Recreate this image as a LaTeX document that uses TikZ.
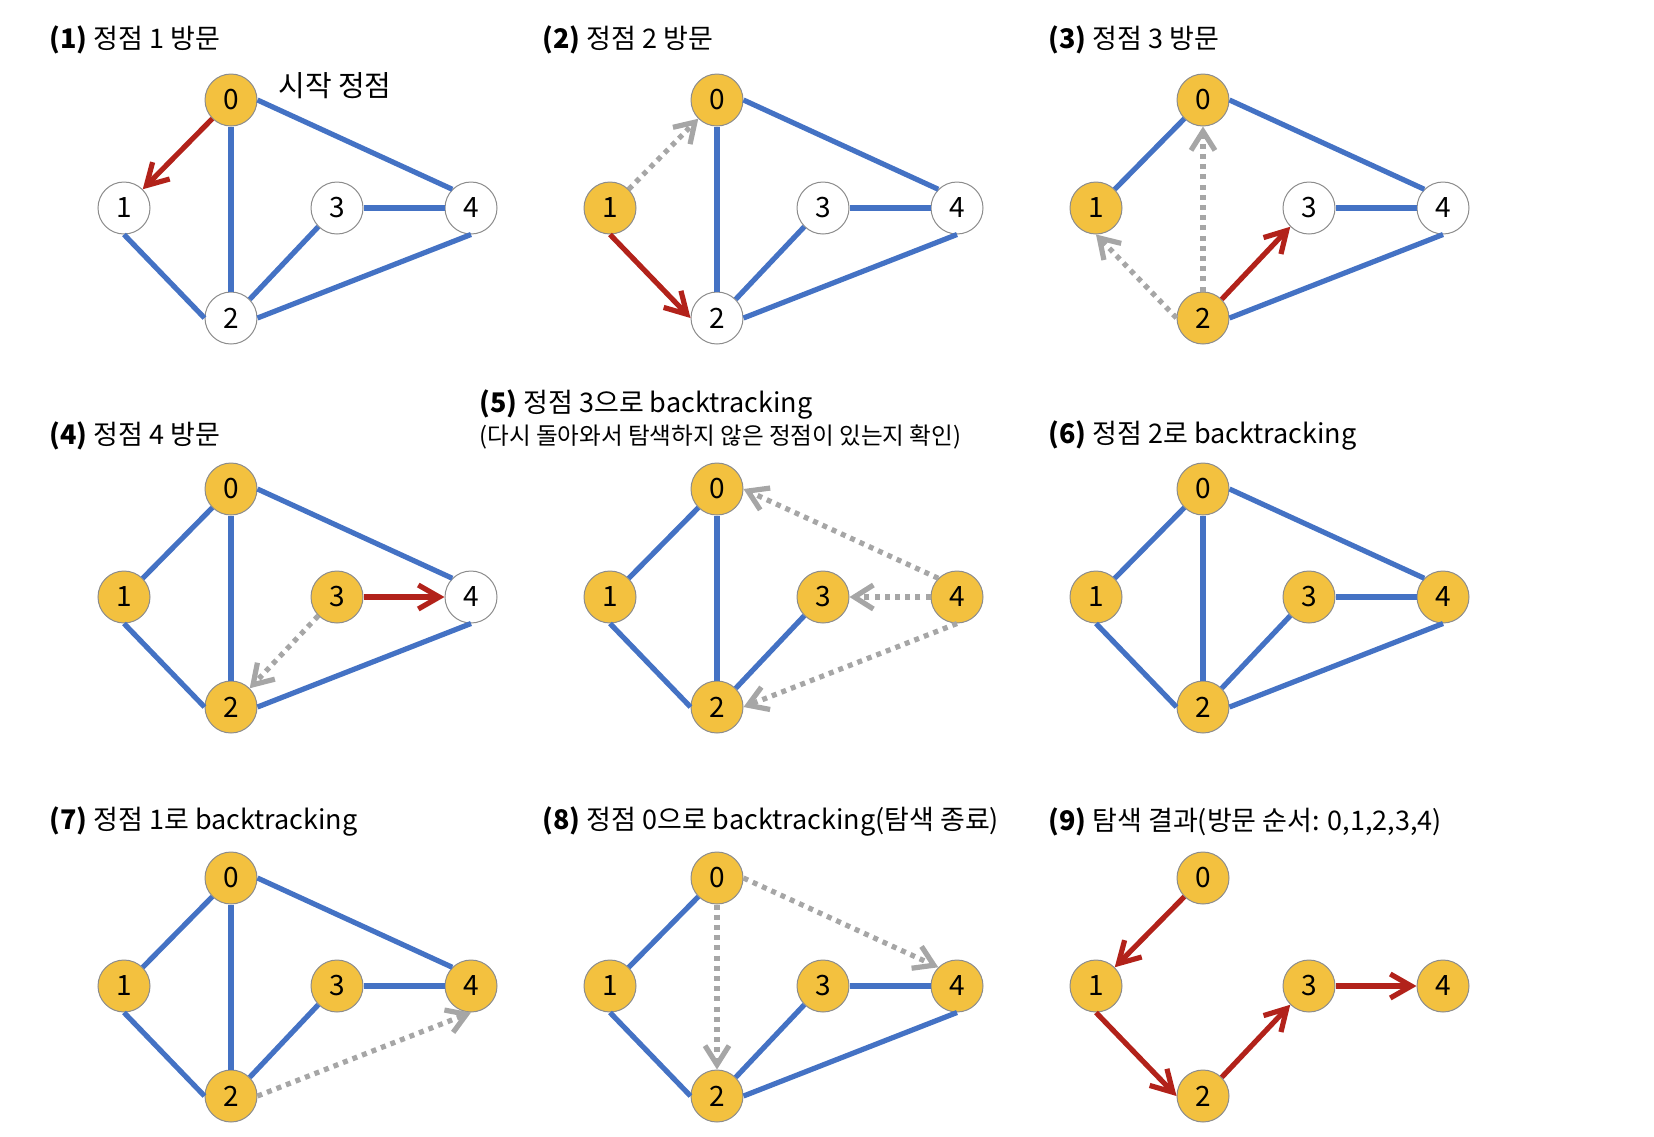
\documentclass[tikz,border=0pt]{standalone}
\usepackage{fontspec}
\setmainfont{Noto Sans CJK KR}
\usetikzlibrary{arrows.meta}

\definecolor{vyellow}{HTML}{F3C13F}
\definecolor{vborder}{HTML}{8C8C8C}
\definecolor{eblue}{HTML}{4472C4}
\definecolor{ered}{HTML}{B2221A}
\definecolor{egray}{HTML}{A6A6A6}

\newcommand{\vertices}[5]{%
  \node[#1] (v0) at (231,100) {0};
  \node[#2] (v1) at (124,208) {1};
  \node[#3] (v2) at (231,318) {2};
  \node[#4] (v3) at (337,208) {3};
  \node[#5] (v4) at (471,208) {4};}

\tikzset{
  vtx/.style={circle, draw=vborder, line width=0.5pt, minimum size=26pt, inner sep=0pt, font=\fontsize{14pt}{14pt}\selectfont},
  seen/.style={vtx, fill=vyellow},
  fresh/.style={vtx, fill=white},
  link/.style={draw=eblue, line width=2.6pt},
  visit/.style={draw=ered, line width=2.6pt, -{Straight Barb[length=10.5pt,width=12pt]}},
  check/.style={draw=egray, line width=2.6pt, dash pattern=on 2.5pt off 2.6pt, -{Straight Barb[length=9.5pt,width=12pt]}},
  title/.style={anchor=west, inner sep=0pt, font=\fontsize{13.5pt}{16pt}\selectfont},
  note/.style={anchor=west, inner sep=0pt, font=\fontsize{11.8pt}{14pt}\selectfont},
}

\begin{document}
\begin{tikzpicture}[x=0.5pt, y=-0.5pt]
  \useasboundingbox (0,0) rectangle (1654,1136);

  \node[title] (t1) at (49,40) {{\bfseries (1)} 정점 1 방문};
  \node[title] (t2) at (542,40) {{\bfseries (2)} 정점 2 방문};
  \node[title] (t3) at (1048,40) {{\bfseries (3)} 정점 3 방문};
  \node[title] (t4) at (49,436) {{\bfseries (4)} 정점 4 방문};
  \node[title] (t5) at (479,405) {{\bfseries (5)} 정점 3으로 backtracking};
  \node[note] (t5b) at (479,437) {(다시 돌아와서 탐색하지 않은 정점이 있는지 확인)};
  \node[title] (t6) at (1048,436) {{\bfseries (6)} 정점 2로 backtracking};
  \node[title] (t7) at (49,822) {{\bfseries (7)} 정점 1로 backtracking};
  \node[title] (t8) at (542,822) {{\bfseries (8)} 정점 0으로 backtracking(탐색 종료)};
  \node[title] (t9) at (1048,822) {{\bfseries (9)} 탐색 결과(방문 순서: 0,1,2,3,4)};

  \begin{scope}[name prefix=a-]
    \vertices{seen}{fresh}{fresh}{fresh}{fresh}
    \node[title, font=\fontsize{14.5pt}{16pt}\selectfont] (start) at (278,86) {시작 정점};
    \draw[link] (v1.south) -- (v2.west);
    \draw[link] (v0.south) -- (v2.north);
    \draw[link] (v0.east) -- (v4.north west);
    \draw[link] (v3.south west) -- (v2.north east);
    \draw[link] (v3.east) -- (v4.west);
    \draw[link] (v2.east) -- (v4.south);
    \draw[visit] (v0.south west) -- (v1.north east);
  \end{scope}

  \begin{scope}[shift={(486,0)}, name prefix=b-]
    \vertices{seen}{seen}{fresh}{fresh}{fresh}
    \draw[link] (v0.south) -- (v2.north);
    \draw[link] (v0.east) -- (v4.north west);
    \draw[link] (v3.south west) -- (v2.north east);
    \draw[link] (v3.east) -- (v4.west);
    \draw[link] (v2.east) -- (v4.south);
    \draw[check] (v1.north east) -- (v0.south west);
    \draw[visit] (v1.south) -- (v2.west);
  \end{scope}

  \begin{scope}[shift={(972,0)}, name prefix=c-]
    \vertices{seen}{seen}{seen}{fresh}{fresh}
    \draw[link] (v0.south west) -- (v1.north east);
    \draw[link] (v0.east) -- (v4.north west);
    \draw[link] (v3.east) -- (v4.west);
    \draw[link] (v2.east) -- (v4.south);
    \draw[check] (v2.west) -- (v1.south);
    \draw[check] (v2.north) -- (v0.south);
    \draw[visit] (v2.north east) -- (v3.south west);
  \end{scope}

  \begin{scope}[shift={(0,389)}, name prefix=d-]
    \vertices{seen}{seen}{seen}{seen}{fresh}
    \draw[link] (v0.south west) -- (v1.north east);
    \draw[link] (v1.south) -- (v2.west);
    \draw[link] (v0.south) -- (v2.north);
    \draw[link] (v0.east) -- (v4.north west);
    \draw[link] (v2.east) -- (v4.south);
    \draw[check] (v3.south west) -- (v2.north east);
    \draw[visit] (v3.east) -- (v4.west);
  \end{scope}

  \begin{scope}[shift={(486,389)}, name prefix=e-]
    \vertices{seen}{seen}{seen}{seen}{seen}
    \draw[link] (v0.south west) -- (v1.north east);
    \draw[link] (v1.south) -- (v2.west);
    \draw[link] (v0.south) -- (v2.north);
    \draw[link] (v3.south west) -- (v2.north east);
    \draw[check] (v4.north west) -- (v0.east);
    \draw[check] (v4.west) -- (v3.east);
    \draw[check] (v4.south) -- (v2.east);
  \end{scope}

  \begin{scope}[shift={(972,389)}, name prefix=f-]
    \vertices{seen}{seen}{seen}{seen}{seen}
    \draw[link] (v0.south west) -- (v1.north east);
    \draw[link] (v1.south) -- (v2.west);
    \draw[link] (v0.south) -- (v2.north);
    \draw[link] (v0.east) -- (v4.north west);
    \draw[link] (v3.south west) -- (v2.north east);
    \draw[link] (v3.east) -- (v4.west);
    \draw[link] (v2.east) -- (v4.south);
  \end{scope}

  \begin{scope}[shift={(0,778)}, name prefix=g-]
    \vertices{seen}{seen}{seen}{seen}{seen}
    \draw[link] (v0.south west) -- (v1.north east);
    \draw[link] (v1.south) -- (v2.west);
    \draw[link] (v0.south) -- (v2.north);
    \draw[link] (v0.east) -- (v4.north west);
    \draw[link] (v3.south west) -- (v2.north east);
    \draw[link] (v3.east) -- (v4.west);
    \draw[check] (v2.east) -- (v4.south);
  \end{scope}

  \begin{scope}[shift={(486,778)}, name prefix=h-]
    \vertices{seen}{seen}{seen}{seen}{seen}
    \draw[link] (v0.south west) -- (v1.north east);
    \draw[link] (v1.south) -- (v2.west);
    \draw[link] (v3.south west) -- (v2.north east);
    \draw[link] (v3.east) -- (v4.west);
    \draw[link] (v2.east) -- (v4.south);
    \draw[check] (v0.east) -- (v4.north west);
    \draw[check] (v0.south) -- (v2.north);
  \end{scope}

  \begin{scope}[shift={(972,778)}, name prefix=i-]
    \vertices{seen}{seen}{seen}{seen}{seen}
    \draw[visit] (v0.south west) -- (v1.north east);
    \draw[visit] (v1.south) -- (v2.west);
    \draw[visit] (v2.north east) -- (v3.south west);
    \draw[visit] (v3.east) -- (v4.west);
  \end{scope}
\end{tikzpicture}
\end{document}
